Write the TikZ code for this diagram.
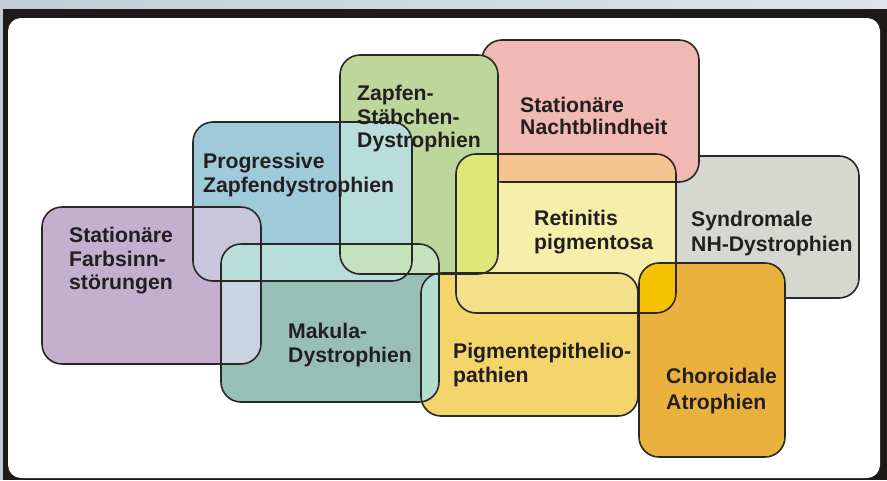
\documentclass[tikz,border=0pt]{standalone}
\usepackage{fontspec}
\setmainfont{Liberation Sans}
\begin{document}
\begin{tikzpicture}[x=1pt,y=-1pt,
  box/.style={rounded corners=20pt},
  edge/.style={rounded corners=20pt,draw=outline,line width=1.6pt},
  lbl/.style={anchor=north west,inner sep=0pt,align=left,text=labeltext,
    font=\fontsize{21.2}{23.5}\selectfont\bfseries}]
% palette
\definecolor{outline}{HTML}{2A2826}
\definecolor{labeltext}{HTML}{231F20}
\definecolor{cPurple}{HTML}{C4AFCF}
\definecolor{cBlue}{HTML}{9FCADA}
\definecolor{cGreen}{HTML}{BCD69B}
\definecolor{cPink}{HTML}{F1B9B3}
\definecolor{cYellow}{HTML}{F6EFAA}
\definecolor{cGray}{HTML}{D6D7D1}
\definecolor{cTeal}{HTML}{98BFB5}
\definecolor{cGold}{HTML}{F3D56C}
\definecolor{cOrange}{HTML}{EBB13D}
% blends where two areas meet
\definecolor{oPurpleBlue}{HTML}{C8C5DD}
\definecolor{oPurpleTeal}{HTML}{C9D4E2}
\definecolor{oCyan}{HTML}{B9DDDA}
\definecolor{oGreenTeal}{HTML}{C6E2BC}
\definecolor{oGreenYellow}{HTML}{DEE778}
\definecolor{oPinkYellow}{HTML}{F6C48F}
\definecolor{oYellowGold}{HTML}{F4E08A}
\definecolor{oYellowOrange}{HTML}{F6C100}
\definecolor{oTealGold}{HTML}{B3DDCF}
% frame colours
\definecolor{fTopL}{HTML}{C3CED8}
\definecolor{fTopR}{HTML}{DEE4E9}
\definecolor{fSide}{HTML}{C3CDD6}
\definecolor{fDark}{HTML}{1E1A18}

% outer frame
\useasboundingbox (0,0) rectangle (887,480);
\shade[left color=fTopL,right color=fTopR] (0,0) rectangle (887,9);
\fill[fSide] (0,0) rectangle (3,480);
\fill[fDark] (3,9) rectangle (887,480);
\fill[white,rounded corners=13pt] (8,18) rectangle (880,478);

% areas
\def\rFarb{(42,207) rectangle (261,364)}
\def\rProg{(193,122) rectangle (412,281)}
\def\rZapf{(340,55) rectangle (498,274)}
\def\rNacht{(482,40) rectangle (699,182)}
\def\rRet{(456,154) rectangle (676,313)}
\def\rSynd{(640,156) rectangle (859,298)}
\def\rMak{(221,244) rectangle (439,402)}
\def\rPig{(421,273) rectangle (638,416)}
\def\rChor{(639,263) rectangle (785,457)}

% bottom layer: syndromal area with its outline, partly hidden later
\fill[box,cGray] \rSynd;
\draw[edge] \rSynd;
\fill[box,cPink] \rNacht;
\fill[box,cGreen] \rZapf;
\fill[box,cPurple] \rFarb;
\fill[box,cBlue] \rProg;
\fill[box,cTeal] \rMak;
\fill[box,cYellow] \rRet;
\fill[box,cGold] \rPig;
\fill[box,cOrange] \rChor;

% overlaps
\begin{scope}\clip[box] \rFarb; \fill[box,oPurpleBlue] \rProg; \end{scope}
\begin{scope}\clip[box] \rFarb; \fill[box,oPurpleTeal] \rMak; \end{scope}
\begin{scope}\clip[box] \rProg; \fill[box,oCyan] \rZapf; \end{scope}
\begin{scope}\clip[box] \rProg; \fill[box,oCyan] \rMak; \end{scope}
\begin{scope}\clip[box] \rZapf; \fill[box,oGreenTeal] \rMak; \end{scope}
\begin{scope}\clip[box] \rNacht; \fill[box,oPinkYellow] \rRet; \end{scope}
\begin{scope}\clip[box] \rZapf; \fill[box,oGreenYellow] \rRet; \end{scope}
\begin{scope}\clip[box] \rRet; \fill[box,oYellowGold] \rPig; \end{scope}
\begin{scope}\clip[box] \rRet; \fill[box,oYellowOrange] \rChor; \end{scope}
\begin{scope}\clip[box] \rMak; \fill[box,oTealGold] \rPig; \end{scope}

% outlines; the night-blindness area lies beneath the cone-rod area
\begin{scope}[even odd rule]
  \clip[box] (-40,-40) rectangle (927,520) \rZapf;
  \draw[edge] \rNacht;
\end{scope}
\draw[edge] \rZapf;
\draw[edge] \rFarb;
\draw[edge] \rProg;
\draw[edge] \rMak;
\draw[edge] \rRet;
\draw[edge] \rPig;
\draw[edge] \rChor;

% labels
\node[lbl] (tFarb) at (69,227) {Stationäre\\Farbsinn-\\störungen};
\node[lbl] (tProg) at (203,153) {Progressive\\Zapfendystrophien};
\node[lbl] (tZapf) at (357,85) {Zapfen-\\Stäbchen-\\Dystrophien};
\node[lbl,font=\fontsize{21.2}{22}\selectfont\bfseries] (tNacht) at (520,97) {Stationäre\\Nachtblindheit};
\node[lbl] (tRet) at (534,210) {Retinitis\\pigmentosa};
\node[lbl,font=\fontsize{21.2}{24.5}\selectfont\bfseries] (tSynd) at (691,211) {Syndromale\\NH-Dystrophien};
\node[lbl] (tMak) at (288,323) {Makula-\\Dystrophien};
\node[lbl] (tPig) at (453,343) {Pigmentepithelio-\\pathien};
\node[lbl,font=\fontsize{21.2}{25.5}\selectfont\bfseries] (tChor) at (666,368) {Choroidale\\Atrophien};
\end{tikzpicture}
\end{document}
